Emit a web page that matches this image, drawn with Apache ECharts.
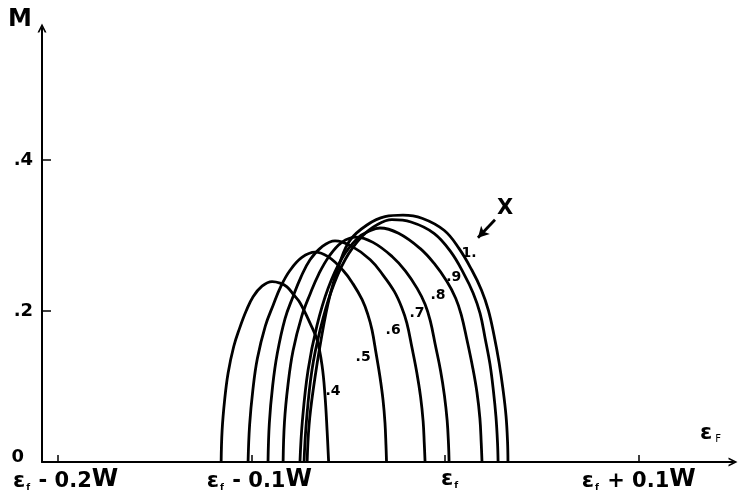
<!DOCTYPE html>
<html>
<head>
<meta charset="utf-8">
<script src="https://cdn.jsdelivr.net/npm/echarts@6/dist/echarts.min.js"></script>
<style>
  html, body { margin: 0; padding: 0; background: #fff; }
  #chart { width: 738px; height: 497px; }
</style>
</head>
<body>
<div id="chart"></div>
<script>
// Horizontal axis: energy offset from ε_f in units of 0.01 W.  Vertical axis: M.
// One dome per value of x, each as [offset, M] pairs along the curve.
const curve04 = [[-11.56,0],[-11.51,0.042],[-11.38,0.082],[-11.20,0.118],[-10.91,0.153],[-10.61,0.177],[-10.27,0.200],[-9.91,0.219],[-9.45,0.233],[-8.93,0.239],[-8.52,0.237],[-8.16,0.232],[-7.80,0.221],[-7.49,0.211],[-6.97,0.184],[-6.61,0.162],[-6.35,0.128],[-6.20,0.089],[-6.09,0.042],[-6.01,0]];
const curve05 = [[-10.17,0],[-10.09,0.049],[-9.92,0.096],[-9.69,0.137],[-9.28,0.180],[-8.87,0.208],[-8.47,0.233],[-8.00,0.254],[-7.39,0.271],[-6.71,0.278],[-6.04,0.272],[-5.27,0.254],[-4.75,0.236],[-4.28,0.215],[-3.98,0.195],[-3.77,0.175],[-3.56,0.144],[-3.36,0.113],[-3.20,0.082],[-3.10,0.052],[-3.05,0.023],[-3.02,0]];
const curve06 = [[-9.14,0],[-9.07,0.052],[-8.90,0.101],[-8.66,0.144],[-8.26,0.190],[-7.85,0.219],[-7.44,0.245],[-6.97,0.268],[-6.36,0.285],[-5.68,0.293],[-4.83,0.286],[-3.86,0.268],[-3.21,0.248],[-2.62,0.226],[-2.24,0.205],[-1.97,0.184],[-1.71,0.152],[-1.46,0.119],[-1.26,0.086],[-1.13,0.054],[-1.07,0.024],[-1.03,0]];
const curve07 = [[-8.36,0],[-8.29,0.053],[-8.11,0.102],[-7.85,0.147],[-7.40,0.193],[-6.96,0.223],[-6.52,0.249],[-6.00,0.272],[-5.33,0.291],[-4.60,0.298],[-3.72,0.291],[-2.72,0.272],[-2.04,0.253],[-1.44,0.230],[-1.03,0.209],[-0.76,0.187],[-0.50,0.155],[-0.23,0.121],[-0.03,0.088],[0.11,0.055],[0.18,0.024],[0.21,0]];
const curve08 = [[-7.49,0],[-7.36,0.056],[-7.07,0.122],[-6.61,0.181],[-6.04,0.230],[-5.32,0.270],[-4.49,0.297],[-3.90,0.306],[-3.36,0.310],[-2.40,0.303],[-1.29,0.283],[-0.56,0.263],[0.10,0.239],[0.55,0.217],[0.84,0.195],[1.14,0.161],[1.43,0.125],[1.65,0.092],[1.80,0.058],[1.87,0.025],[1.91,0]];
const curve09 = [[-7.28,0],[-7.15,0.056],[-6.87,0.122],[-6.45,0.175],[-5.89,0.225],[-5.16,0.268],[-4.28,0.299],[-3.46,0.315],[-2.74,0.321],[-1.76,0.318],[-0.57,0.303],[0.31,0.278],[0.98,0.249],[1.45,0.224],[1.81,0.197],[2.07,0.164],[2.32,0.130],[2.50,0.094],[2.63,0.060],[2.71,0.026],[2.74,0]];
const curve10 = [[-7.12,0],[-7.02,0.049],[-6.81,0.095],[-6.40,0.162],[-5.94,0.221],[-5.42,0.265],[-4.90,0.294],[-4.03,0.314],[-3.10,0.325],[-2.17,0.327],[-1.19,0.323],[-0.05,0.307],[0.72,0.283],[1.39,0.254],[1.88,0.228],[2.24,0.201],[2.53,0.168],[2.79,0.132],[2.99,0.097],[3.15,0.061],[3.23,0.026],[3.25,0]];

const curveNames = ['.4', '.5', '.6', '.7', '.8', '.9', '1.'];
const curves = [curve04, curve05, curve06, curve07, curve08, curve09, curve10];

// Curve tags, placed beside each dome
const tagX = [-5.78, -4.23, -2.68, -1.45, -0.36, 0.45, 1.24];
const tagY = [0.093, 0.138, 0.175, 0.197, 0.221, 0.245, 0.277];

// "X" tag with its arrow
const xTagPos = [3.10, 0.336];
const arrowFrom = [2.58, 0.321];
const arrowTo = [1.70, 0.297];

// Tick positions and texts
const xTickValues = [-20, -10, 0, 10];
const xTickSuffix = [' - 0.2', ' - 0.1', '', ' + 0.1'];
const yTickValues = [0, 0.2, 0.4];
const yTickText = ['0', '.2', '.4'];

const FONT = 'DejaVu Sans';
const chevron = 'path://M0,10 L5,0 L10,10 L8,10 L5,4 L2,10 Z';

const chart = echarts.init(document.getElementById('chart'), null, { renderer: 'canvas' });

const lineSeries = curves.map((pts, i) => ({
  type: 'line',
  name: curveNames[i],
  data: pts,
  smooth: 0.4,
  showSymbol: false,
  symbol: 'none',
  lineStyle: { color: '#000', width: 2.8 },
  z: 3
}));

const tagSeries = {
  type: 'scatter',
  symbolSize: 0,
  silent: true,
  z: 5,
  itemStyle: { opacity: 1 },
  data: curveNames.map((n, i) => ({ name: n, value: [tagX[i], tagY[i]] })).concat([
    { name: 'X', value: xTagPos, label: { fontSize: 21 } }
  ]),
  label: {
    show: true,
    position: 'inside',
    formatter: p => p.name,
    color: '#000',
    opacity: 1,
    fontFamily: FONT,
    fontWeight: 'bold',
    fontSize: 14
  },
  markLine: {
    silent: true,
    symbol: ['none', 'arrow'],
    symbolSize: [9, 11],
    label: { show: false },
    lineStyle: { color: '#000', width: 2.8, type: 'solid', opacity: 1 },
    data: [[{ coord: arrowFrom }, { coord: arrowTo }]]
  }
};

const tickRich = {
  e: { fontFamily: FONT, fontWeight: 'bold', fontSize: 22, color: '#000', verticalAlign: 'bottom' },
  eL: { fontFamily: FONT, fontWeight: 'bold', fontSize: 22, color: '#000', verticalAlign: 'bottom', padding: [0, 0, 0, 16] },
  eC: { fontFamily: FONT, fontWeight: 'bold', fontSize: 22, color: '#000', verticalAlign: 'bottom', padding: [0, 0, 0, 10] },
  s: { fontFamily: FONT, fontWeight: 'bold', fontSize: 9, color: '#000', verticalAlign: 'bottom', padding: [0, 1, 0, 1] },
  t: { fontFamily: FONT, fontWeight: 'bold', fontSize: 21, color: '#000', verticalAlign: 'bottom' },
  w: { fontFamily: FONT, fontWeight: 'bold', fontSize: 24, color: '#000', verticalAlign: 'bottom' }
};

chart.setOption({
  backgroundColor: '#fff',
  animation: false,
  grid: { left: 42, right: 5, top: 28, bottom: 35, containLabel: false, outerBoundsMode: 'none' },
  xAxis: {
    type: 'value',
    min: -20.81,
    max: 14.87,
    splitLine: { show: false },
    axisLine: {
      show: true,
      onZero: false,
      lineStyle: { color: '#000', width: 2 },
      symbol: ['none', chevron],
      symbolSize: [12, 9]
    },
    axisTick: { show: true, inside: true, length: 7, customValues: xTickValues, lineStyle: { color: '#000', width: 1.5 } },
    axisLabel: {
      show: true,
      customValues: xTickValues,
      margin: 6,
      formatter: v => {
        const i = xTickValues.indexOf(Math.round(v));
        const s = xTickSuffix[i];
        if (!s) return '{eC|ε}{s|f}';
        const head = s.indexOf('-') >= 0 ? 'eL' : 'e';
        return '{' + head + '|ε}{s|f}{t|' + s + '}{w|W}';
      },
      rich: tickRich
    }
  },
  yAxis: {
    type: 'value',
    min: 0,
    max: 0.575,
    splitLine: { show: false },
    axisLine: {
      show: true,
      onZero: false,
      lineStyle: { color: '#000', width: 2 },
      symbol: ['none', chevron],
      symbolSize: [11, 9]
    },
    axisTick: { show: true, inside: true, length: 9, customValues: [0.2, 0.4], lineStyle: { color: '#000', width: 1.5 } },
    axisLabel: {
      show: true,
      customValues: yTickValues,
      margin: 9,
      color: '#000',
      fontFamily: FONT,
      fontWeight: 'bold',
      fontSize: 18,
      formatter: v => {
        const i = yTickValues.findIndex(t => Math.abs(t - v) < 1e-6);
        return i === 0 ? '{z|' + yTickText[i] + '}' : yTickText[i];
      },
      rich: {
        z: { fontFamily: FONT, fontWeight: 'bold', fontSize: 18, color: '#000', padding: [0, 9, 10, 0] }
      }
    }
  },
  graphic: [
    {
      type: 'text', left: 8, top: 8,
      style: { text: 'M', fontFamily: FONT, fontWeight: 'bold', fontSize: 24, fill: '#000' }
    },
    {
      type: 'text', left: 700, top: 422,
      style: {
        text: '{e|ε}{s|F}',
        rich: {
          e: { fontFamily: FONT, fontWeight: 'bold', fontSize: 22, fill: '#000', verticalAlign: 'bottom' },
          s: { fontFamily: FONT, fontSize: 10, fill: '#000', verticalAlign: 'bottom', padding: [0, 0, 0, 3] }
        }
      }
    }
  ],
  series: lineSeries.concat([tagSeries])
});
</script>
</body>
</html>
